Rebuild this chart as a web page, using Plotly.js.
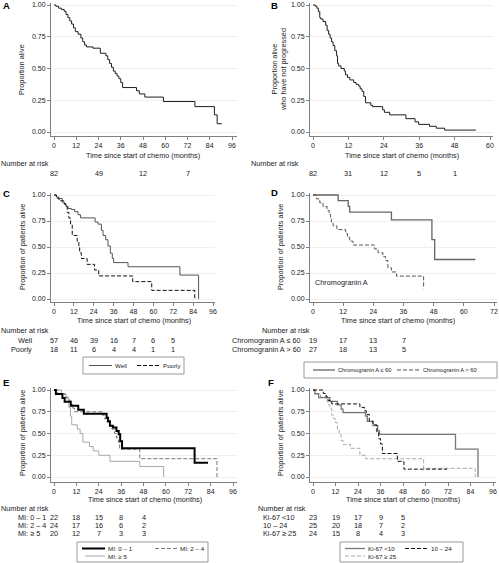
<!DOCTYPE html>
<html>
<head>
<meta charset="utf-8">
<script src="https://cdn.plot.ly/plotly-3.0.1.min.js"></script>
<style>html,body{margin:0;padding:0;background:#fff;}#chart{width:499px;height:563px;}</style>
</head>
<body>
<div id="chart"></div>
<script>
// ---------------- DATA ----------------
// Panel A: overall survival
const A_time = [0,1,2.5,4,5.5,6.5,7.5,8.5,9.5,10.5,11.5,13,14.5,15.5,16.5,17.5,21,25,28,29,30,31,32,33,34,35,36,37,44.5,46,49,59,76,86.5,88,90.5];
const A_surv = [1,0.99,0.975,0.965,0.95,0.925,0.90,0.875,0.85,0.82,0.79,0.77,0.74,0.71,0.685,0.67,0.66,0.62,0.60,0.57,0.54,0.51,0.48,0.46,0.44,0.42,0.39,0.35,0.325,0.30,0.275,0.24,0.20,0.135,0.065,0.065];
// Panel B: progression-free survival
const B_time = [0,0.8,1.3,1.8,2.3,2.6,3.4,4.3,4.8,5.3,5.8,6.3,6.8,7.4,8.0,8.3,8.7,9.5,10.6,11.0,11.7,12.5,13.8,14.6,15.5,16.0,16.6,17.2,17.8,19.6,20.2,23.6,24.2,26,31.5,34.6,35.8,39.5,41.8,44.6,55.2];
const B_surv = [1,0.99,0.975,0.95,0.90,0.89,0.87,0.84,0.80,0.77,0.74,0.71,0.68,0.64,0.60,0.54,0.52,0.50,0.48,0.45,0.43,0.41,0.39,0.375,0.36,0.34,0.32,0.28,0.23,0.21,0.20,0.175,0.155,0.135,0.105,0.08,0.06,0.045,0.03,0.015,0.015];
// Panel C: differentiation
const C_well_time = [0,1.4,3,5,6.4,7.4,8.5,10.5,12.5,14.5,16,24.8,26.6,28.6,29.6,31.2,32.6,34,35.2,36,44.7,76,87.3];
const C_well_surv = [1,0.98,0.965,0.93,0.91,0.89,0.87,0.86,0.84,0.81,0.78,0.74,0.72,0.66,0.61,0.57,0.51,0.44,0.39,0.35,0.31,0.23,0];
const C_poor_time = [0,1.5,3,6,7,8,9,10,11,14,15,15.5,16.5,20,24.5,27,47.5,59,85];
const C_poor_surv = [1,0.97,0.944,0.917,0.889,0.833,0.778,0.722,0.611,0.556,0.5,0.444,0.389,0.333,0.278,0.222,0.167,0.083,0];
// Panel D: chromogranin A
const D_low_time = [0,10,14,14.6,31.2,47.3,48.4,64.6];
const D_low_surv = [1,0.945,0.89,0.835,0.76,0.57,0.38,0.38];
const D_high_time = [0,1.3,2.7,4,5.6,6.4,7,7.3,8,9.5,13,13.7,14.6,15.9,24.5,25.9,27.8,28.9,29.8,31.2,33.2,44];
const D_high_surv = [1,0.963,0.926,0.889,0.852,0.815,0.778,0.741,0.704,0.667,0.63,0.593,0.556,0.519,0.481,0.444,0.407,0.37,0.30,0.26,0.22,0.10];
// Panel E: mitotic index
const E_01_time = [0,1,4.5,5.7,9,13,16,28.2,29,30,31.6,33.5,34.7,35.5,36.5,75.4,82.6];
const E_01_surv = [1,0.955,0.909,0.864,0.818,0.773,0.727,0.68,0.64,0.59,0.57,0.53,0.49,0.41,0.33,0.165,0.165];
const E_24_time = [0,2,6,8,9,10,11,26,27,28.5,30,31,32.5,33.5,34.5,35.2,46,87.4];
const E_24_surv = [1,0.958,0.917,0.875,0.833,0.792,0.75,0.71,0.67,0.63,0.59,0.55,0.50,0.45,0.40,0.32,0.21,0];
const E_5_time = [0,4,6.5,8,8.8,9.5,12.5,14,15.5,19,21,24,30,46,58.8];
const E_5_surv = [1,0.95,0.90,0.80,0.70,0.60,0.55,0.50,0.40,0.35,0.30,0.25,0.18,0.12,0];
// Panel F: Ki-67
const F_lt10_time = [0,1,3,9,13,15,16,28,29,32,34.5,35.5,76,88];
const F_lt10_surv = [1,0.957,0.913,0.87,0.83,0.78,0.74,0.70,0.64,0.59,0.53,0.49,0.32,0];
const F_1024_time = [0,5.5,7,8,10,25,27.5,28.5,30,32,34,35,36,37,45,48.5,71.5];
const F_1024_surv = [1,0.96,0.92,0.88,0.84,0.80,0.76,0.72,0.64,0.60,0.52,0.44,0.38,0.27,0.18,0.09,0.09];
const F_ge25_time = [0,1,4,7,8,9,10,11,12,13,14,15,16,20,25,28,59,86.5];
const F_ge25_surv = [1,0.96,0.92,0.875,0.83,0.79,0.71,0.67,0.625,0.54,0.50,0.42,0.375,0.33,0.25,0.21,0.10,0];

// Numbers at risk
const riskA_times = [0,24,48,72];
const riskA = [82,49,12,7];
const riskB_times = [0,12,24,36,48];
const riskB = [82,31,12,5,1];
const riskC_times = [0,12,24,36,48,60,72];
const riskC_well = [57,46,39,16,7,6,5];
const riskC_poorly = [18,11,6,4,4,1,1];
const riskD_times = [0,12,24,36];
const riskD_low = [19,17,13,7];
const riskD_high = [27,18,13,5];
const riskE_times = [0,12,24,36,48];
const riskE_01 = [22,18,15,8,4];
const riskE_24 = [24,17,16,6,2];
const riskE_5 = [20,12,7,3,3];
const riskF_times = [0,12,24,36,48];
const riskF_lt10 = [23,19,17,9,5];
const riskF_1024 = [25,20,18,7,2];
const riskF_ge25 = [24,15,8,4,3];

// Labels
const panelLetters = ['A','B','C','D','E','F'];
const xTitle = 'Time since start of chemo (months)';
const yTitles = ['Proportion alive','Proportion alive<br>who have not progressed','Proportion of patients alive','Proportion of patients alive','Proportion of patients alive','Proportion of patients alive'];
const xMaxTicks = [96,60,96,72,96,96];
const yTickVals = [0,0.25,0.5,0.75,1];

// ---------------- LAYOUT ----------------
const W = 499, H = 563;
const FONT = 'Liberation Sans, Arial, Helvetica, sans-serif';
const TXT = '#1a1a1a';
const AX = '#808080';
const FS = 7.3;
const px = v => v / W;
const py = v => 1 - v / H;

// plot geometry in page pixels
const geo = [
  {xL:51,  xR:237, x0:54,  x1:232, yT:3,   yB:136, y1:5,   y0:132},
  {xL:310, xR:493, x0:313, x1:490, yT:3,   yB:136, y1:5,   y0:132},
  {xL:51,  xR:215, x0:54,  x1:213, yT:193, yB:302, y1:195, y0:299},
  {xL:310, xR:497, x0:313, x1:494, yT:193, yB:302, y1:195, y0:299},
  {xL:51,  xR:237, x0:54,  x1:233, yT:388, yB:482, y1:390, y0:477},
  {xL:310, xR:496, x0:313, x1:493, yT:388, yB:482, y1:390, y0:477}
];

const layout = {
  width: W, height: H,
  margin: {l:0, r:0, t:0, b:0, pad:0},
  paper_bgcolor: '#fff', plot_bgcolor: '#fff',
  showlegend: false,
  font: {family: FONT, size: FS, color: TXT},
  annotations: [], shapes: []
};

geo.forEach((g, i) => {
  const id = i === 0 ? '' : String(i + 1);
  const xmax = xMaxTicks[i];
  const sx = (g.x1 - g.x0) / xmax;
  const sy = (g.y0 - g.y1);
  const ticks = [];
  for (let t = 0; t <= xmax; t += 12) ticks.push(t);
  layout['xaxis' + id] = {
    domain: [px(g.xL), px(g.xR)],
    range: [-(g.x0 - g.xL) / sx, xmax + (g.xR - g.x1) / sx],
    anchor: 'y' + id,
    tickvals: ticks, ticks: 'outside', ticklen: 3, tickwidth: 1, tickcolor: AX,
    showline: true, linecolor: AX, linewidth: 1,
    showgrid: false, zeroline: false,
    tickfont: {size: 7, color: TXT, family: FONT},
    fixedrange: true
  };
  layout['yaxis' + id] = {
    domain: [py(g.yB), py(g.yT)],
    range: [-(g.yB - g.y0) / sy, 1 + (g.y1 - g.yT) / sy],
    anchor: 'x' + id,
    tickvals: yTickVals, tickformat: '.2f',
    ticks: 'outside', ticklen: 3, tickwidth: 1, tickcolor: AX,
    showline: true, linecolor: AX, linewidth: 1,
    showgrid: true, gridcolor: '#efefef', gridwidth: 1, zeroline: false,
    tickfont: {size: 7, color: TXT, family: FONT},
    fixedrange: true
  };
});

// ---------------- TRACES ----------------
function km(t, s, panel, color, width, dash) {
  const id = panel === 0 ? '' : String(panel + 1);
  return {
    x: t, y: s, type: 'scatter', mode: 'lines',
    line: {shape: 'hv', color: color, width: width, dash: dash || 'solid'},
    xaxis: 'x' + id, yaxis: 'y' + id, hoverinfo: 'skip', showlegend: false
  };
}
const DASH = '4px,2px';
const traces = [
  km(A_time, A_surv, 0, '#1e1e1e', 1),
  km(B_time, B_surv, 1, '#1e1e1e', 1),
  km(C_well_time, C_well_surv, 2, '#555', 1),
  km(C_poor_time, C_poor_surv, 2, '#111', 1, DASH),
  km(D_low_time, D_low_surv, 3, '#666', 1.3),
  km(D_high_time, D_high_surv, 3, '#555', 1, DASH),
  km(E_5_time, E_5_surv, 4, '#a8a8a8', 1),
  km(E_24_time, E_24_surv, 4, '#777', 1, DASH),
  km(E_01_time, E_01_surv, 4, '#000', 2),
  km(F_ge25_time, F_ge25_surv, 5, '#aaa', 1, DASH),
  km(F_lt10_time, F_lt10_surv, 5, '#777', 1.3),
  km(F_1024_time, F_1024_surv, 5, '#111', 1, DASH)
];

// ---------------- TEXT ----------------
function ann(text, x, y, o) {
  o = o || {};
  layout.annotations.push({
    text: text, xref: 'paper', yref: 'paper', x: px(x), y: py(y),
    xanchor: o.xa || 'left', yanchor: 'middle', showarrow: false,
    textangle: o.angle || 0, borderpad: 0,
    font: {family: FONT, size: o.size || FS, color: o.color || TXT, weight: o.weight || 'normal'}
  });
}
function riskRow(values, times, panel, y) {
  const id = panel === 0 ? '' : String(panel + 1);
  values.forEach((v, k) => {
    layout.annotations.push({
      text: String(v), xref: 'x' + id, yref: 'paper', x: times[k], y: py(y),
      xanchor: 'center', yanchor: 'middle', showarrow: false, borderpad: 0,
      font: {family: FONT, size: FS, color: TXT}
    });
  });
}

// panel letters
ann(panelLetters[0], 2, 5, {size: 9.5, weight: 'bold', color: '#000'});
ann(panelLetters[1], 270, 5, {size: 9.5, weight: 'bold', color: '#000'});
ann(panelLetters[2], 2, 193, {size: 9.5, weight: 'bold', color: '#000'});
ann(panelLetters[3], 270, 192, {size: 9.5, weight: 'bold', color: '#000'});
ann(panelLetters[4], 2, 382, {size: 9.5, weight: 'bold', color: '#000'});
ann(panelLetters[5], 267, 382, {size: 9.5, weight: 'bold', color: '#000'});

// y titles
ann(yTitles[0], 22, 70, {xa: 'center', angle: -90});
ann(yTitles[1], 279, 70, {xa: 'center', angle: -90});
ann(yTitles[2], 22, 247, {xa: 'center', angle: -90});
ann(yTitles[3], 280, 247, {xa: 'center', angle: -90});
ann(yTitles[4], 22, 433, {xa: 'center', angle: -90});
ann(yTitles[5], 280, 433, {xa: 'center', angle: -90});

// x titles
ann(xTitle, 143, 155, {xa: 'center'});
ann(xTitle, 402, 155, {xa: 'center'});
ann(xTitle, 134, 320, {xa: 'center'});
ann(xTitle, 398, 320, {xa: 'center'});
ann(xTitle, 145, 499, {xa: 'center'});
ann(xTitle, 403, 499, {xa: 'center'});

// in-plot label
ann('Chromogranin A', 314, 282);

// risk tables
ann('Number at risk', 0, 163);
riskRow(riskA, riskA_times, 0, 173);
ann('Number at risk', 250, 163);
riskRow(riskB, riskB_times, 1, 173);

ann('Number at risk', 0, 330);
ann('Well', 33, 340, {xa: 'right'});
ann('Poorly', 33, 349, {xa: 'right'});
riskRow(riskC_well, riskC_times, 2, 340);
riskRow(riskC_poorly, riskC_times, 2, 349);

ann('Number at risk', 261, 330);
ann('Chromogranin A \u2264 60', 302, 340, {xa: 'right'});
ann('Chromogranin A > 60', 302, 349, {xa: 'right'});
riskRow(riskD_low, riskD_times, 3, 340);
riskRow(riskD_high, riskD_times, 3, 349);

ann('Number at risk', 0, 508);
ann('MI: 0 \u2013 1', 17, 517);
ann('MI: 2 \u2013 4', 17, 525);
ann('MI: \u2265 5', 17, 533);
riskRow(riskE_01, riskE_times, 4, 517);
riskRow(riskE_24, riskE_times, 4, 525);
riskRow(riskE_5, riskE_times, 4, 533);

ann('Number at risk', 257, 508);
ann('Ki-67 <10', 262, 517);
ann('10 \u2013 24', 262, 525);
ann('Ki-67 \u2265 25', 262, 533);
riskRow(riskF_lt10, riskF_times, 5, 517);
riskRow(riskF_1024, riskF_times, 5, 525);
riskRow(riskF_ge25, riskF_times, 5, 533);

// ---------------- LEGEND BOXES ----------------
function box(x0, y0, x1, y1) {
  layout.shapes.push({type: 'rect', xref: 'paper', yref: 'paper', x0: px(x0), x1: px(x1), y0: py(y1), y1: py(y0),
    line: {color: '#999', width: 1}, fillcolor: 'rgba(0,0,0,0)'});
}
function sample(x0, x1, y, color, width, dash) {
  layout.shapes.push({type: 'line', xref: 'paper', yref: 'paper', x0: px(x0), x1: px(x1), y0: py(y), y1: py(y),
    line: {color: color, width: width, dash: dash || 'solid'}});
}
// C
box(83, 357, 184, 374);
sample(89, 112, 365.5, '#555', 1);
ann('Well', 114, 365.5, {size: 6.2});
sample(137, 160, 365.5, '#111', 1, DASH);
ann('Poorly', 162, 365.5, {size: 6.2});
// D
box(304, 362, 497, 378);
sample(313, 335, 370, '#666', 1.3);
ann('Chromogranin A \u2264 60', 337, 370, {size: 5.7});
sample(397, 420, 370, '#555', 1, DASH);
ann('Chromogranin A > 60', 422, 370, {size: 5.7});
// E
box(77, 542, 208, 562);
sample(82, 105, 548.5, '#000', 2);
ann('MI: 0 \u2013 1', 107, 548.5, {size: 6.2});
sample(155, 177, 548.5, '#777', 1, DASH);
ann('MI: 2 \u2013 4', 179, 548.5, {size: 6.2});
sample(85, 105, 556, '#a8a8a8', 1);
ann('MI: \u2265 5', 107, 556, {size: 6.2});
// F
box(340, 542, 463, 562);
sample(345, 365, 548.5, '#777', 1.3);
ann('Ki-67 <10', 367, 548.5, {size: 6.2});
sample(405, 428, 548.5, '#111', 1, DASH);
ann('10 \u2013 24', 430, 548.5, {size: 6.2});
sample(345, 365, 556, '#aaa', 1, DASH);
ann('Ki-67 \u2265 25', 367, 556, {size: 6.2});

Plotly.newPlot('chart', traces, layout, {displayModeBar: false, staticPlot: true});
</script>
</body>
</html>
